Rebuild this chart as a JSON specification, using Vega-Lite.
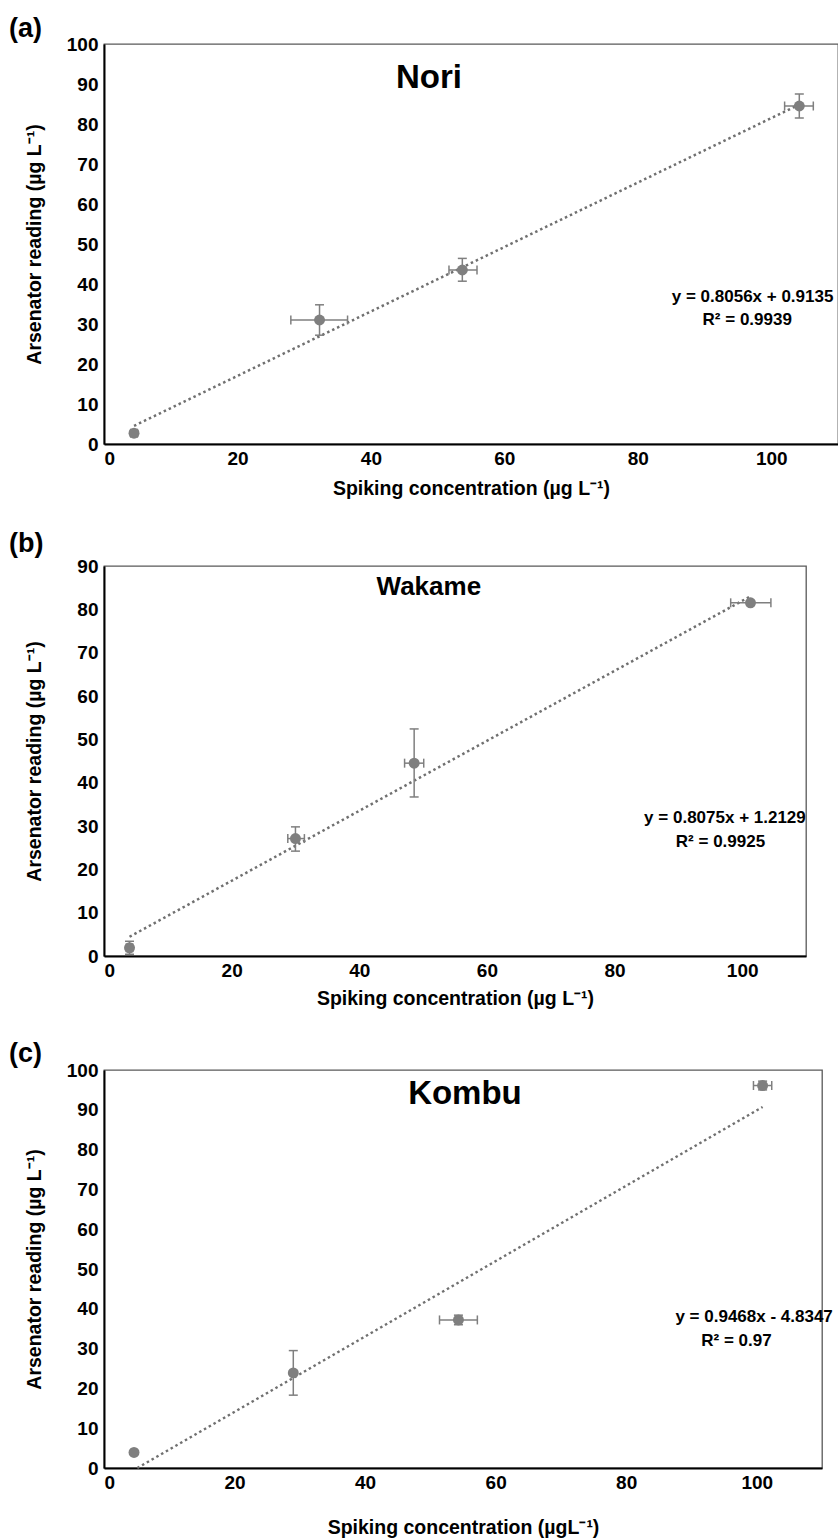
{
  "$schema": "https://vega.github.io/schema/vega-lite/v6.json",
  "background": "white",
  "padding": {"left": 8, "top": 14, "right": 0, "bottom": 0},
  "spacing": 30,
  "config": {
    "font": "Liberation Sans",
    "view": {"stroke": "#595959", "strokeWidth": 1.3},
    "axis": {"grid": false, "ticks": false, "labelOverlap": false, "domainColor": "#000000", "domainWidth": 2, "labelFont": "Liberation Sans", "labelFontSize": 19, "labelFontWeight": "bold", "labelColor": "#000000", "titleFont": "Liberation Sans", "titleFontSize": 19.5, "titleFontWeight": "bold", "titleColor": "#000000", "labelPadding": 5},
    "axisY": {"minExtent": 38, "maxExtent": 38, "titlePadding": 22, "labelPadding": 6},
    "title": {"font": "Liberation Sans", "fontSize": 27, "fontWeight": "bold", "anchor": "start", "color": "#000000"}
  },
  "datasets": {
    "nori": [
      {"x": 4.5, "y": 2.7, "xlo": 4.0, "xhi": 5.0, "ylo": 2.0, "yhi": 3.4},
      {"x": 32.3, "y": 31.0, "xlo": 28.0, "xhi": 36.5, "ylo": 27.2, "yhi": 34.8},
      {"x": 53.7, "y": 43.5, "xlo": 51.7, "xhi": 55.9, "ylo": 40.7, "yhi": 46.4},
      {"x": 104.2, "y": 84.5, "xlo": 102.0, "xhi": 106.3, "ylo": 81.5, "yhi": 87.5}
    ],
    "nori_trend": [{"x": 4.5, "y": 4.54}, {"x": 104.2, "y": 84.86}],
    "wakame": [
      {"x": 4.0, "y": 1.9, "xlo": 3.5, "xhi": 4.5, "ylo": 0.4, "yhi": 3.4},
      {"x": 30.0, "y": 27.1, "xlo": 28.8, "xhi": 31.4, "ylo": 24.2, "yhi": 29.8},
      {"x": 48.6, "y": 44.5, "xlo": 47.1, "xhi": 50.1, "ylo": 36.7, "yhi": 52.4},
      {"x": 101.3, "y": 81.5, "xlo": 98.2, "xhi": 104.5, "ylo": 81.0, "yhi": 82.0}
    ],
    "wakame_trend": [{"x": 4.0, "y": 4.44}, {"x": 101.3, "y": 83.0}],
    "kombu": [
      {"x": 4.6, "y": 3.9, "xlo": 4.3, "xhi": 4.9, "ylo": 3.5, "yhi": 4.3},
      {"x": 29.0, "y": 23.9, "xlo": 28.8, "xhi": 29.2, "ylo": 18.3, "yhi": 29.5},
      {"x": 54.3, "y": 37.2, "xlo": 51.4, "xhi": 57.2, "ylo": 36.0, "yhi": 38.4},
      {"x": 100.9, "y": 96.1, "xlo": 99.5, "xhi": 102.3, "ylo": 95.0, "yhi": 97.2}
    ],
    "kombu_trend": [{"x": 5.1, "y": 0.0}, {"x": 100.9, "y": 90.7}],
    "one": [{}]
  },
  "vconcat": [
    {
      "title": {"text": "(a)", "dx": -15, "offset": -8},
      "width": 734, "height": 400,
      "layer": [
        {"data": {"name": "nori_trend"}, "mark": {"type": "line", "color": "#707070", "strokeWidth": 2.5, "strokeDash": [2.5, 3]},
         "encoding": {
           "x": {"field": "x", "type": "quantitative", "scale": {"domain": [0, 110], "nice": false}, "axis": {"values": [0, 20, 40, 60, 80, 100], "title": "Spiking concentration (µg L⁻¹)", "titlePadding": 11}},
           "y": {"field": "y", "type": "quantitative", "scale": {"domain": [0, 100], "nice": false}, "axis": {"values": [0, 10, 20, 30, 40, 50, 60, 70, 80, 90, 100], "tickCount": 11, "labelOverlap": false, "title": "Arsenator reading (µg L⁻¹)"}}
         }},
        {"data": {"name": "nori"}, "mark": {"type": "rule", "color": "#7f7f7f", "strokeWidth": 1.5},
         "encoding": {"x": {"field": "xlo", "type": "quantitative"}, "x2": {"field": "xhi"}, "y": {"field": "y", "type": "quantitative"}}},
        {"data": {"name": "nori"}, "mark": {"type": "rule", "color": "#7f7f7f", "strokeWidth": 1.5},
         "encoding": {"x": {"field": "x", "type": "quantitative"}, "y": {"field": "ylo", "type": "quantitative"}, "y2": {"field": "yhi"}}},
        {"data": {"name": "nori"}, "mark": {"type": "tick", "orient": "vertical", "color": "#7f7f7f", "size": 9, "thickness": 1.5, "opacity": 1},
         "encoding": {"x": {"field": "xlo", "type": "quantitative"}, "y": {"field": "y", "type": "quantitative"}}},
        {"data": {"name": "nori"}, "mark": {"type": "tick", "orient": "vertical", "color": "#7f7f7f", "size": 9, "thickness": 1.5, "opacity": 1},
         "encoding": {"x": {"field": "xhi", "type": "quantitative"}, "y": {"field": "y", "type": "quantitative"}}},
        {"data": {"name": "nori"}, "mark": {"type": "tick", "orient": "horizontal", "color": "#7f7f7f", "size": 9, "thickness": 1.5, "opacity": 1},
         "encoding": {"x": {"field": "x", "type": "quantitative"}, "y": {"field": "ylo", "type": "quantitative"}}},
        {"data": {"name": "nori"}, "mark": {"type": "tick", "orient": "horizontal", "color": "#7f7f7f", "size": 9, "thickness": 1.5, "opacity": 1},
         "encoding": {"x": {"field": "x", "type": "quantitative"}, "y": {"field": "yhi", "type": "quantitative"}}},
        {"data": {"name": "nori"}, "mark": {"type": "circle", "color": "#7f7f7f", "size": 120, "opacity": 1},
         "encoding": {"x": {"field": "x", "type": "quantitative"}, "y": {"field": "y", "type": "quantitative"}}},
        {"data": {"name": "one"}, "mark": {"type": "text", "text": "Nori", "fontSize": 33, "fontWeight": "bold", "color": "#000000", "baseline": "middle", "align": "center"},
         "encoding": {"x": {"datum": 48.7}, "y": {"datum": 91.5}}},
        {"data": {"name": "one"}, "mark": {"type": "text", "text": "y = 0.8056x + 0.9135", "fontSize": 17, "fontWeight": "bold", "color": "#000000", "baseline": "middle", "align": "center"},
         "encoding": {"x": {"datum": 97.2}, "y": {"datum": 36.8}}},
        {"data": {"name": "one"}, "mark": {"type": "text", "text": "R² = 0.9939", "fontSize": 17, "fontWeight": "bold", "color": "#000000", "baseline": "middle", "align": "center"},
         "encoding": {"x": {"datum": 96.4}, "y": {"datum": 31.0}}}
      ]
    },
    {
      "title": {"text": "(b)", "dx": -15, "offset": -1},
      "width": 702, "height": 390,
      "layer": [
        {"data": {"name": "wakame_trend"}, "mark": {"type": "line", "color": "#707070", "strokeWidth": 2.5, "strokeDash": [2.5, 3]},
         "encoding": {
           "x": {"field": "x", "type": "quantitative", "scale": {"domain": [0, 110], "nice": false}, "axis": {"values": [0, 20, 40, 60, 80, 100], "title": "Spiking concentration (µg L⁻¹)", "titlePadding": 9}},
           "y": {"field": "y", "type": "quantitative", "scale": {"domain": [0, 90], "nice": false}, "axis": {"values": [0, 10, 20, 30, 40, 50, 60, 70, 80, 90], "tickCount": 10, "labelOverlap": false, "title": "Arsenator reading (µg L⁻¹)"}}
         }},
        {"data": {"name": "wakame"}, "mark": {"type": "rule", "color": "#7f7f7f", "strokeWidth": 1.5},
         "encoding": {"x": {"field": "xlo", "type": "quantitative"}, "x2": {"field": "xhi"}, "y": {"field": "y", "type": "quantitative"}}},
        {"data": {"name": "wakame"}, "mark": {"type": "rule", "color": "#7f7f7f", "strokeWidth": 1.5},
         "encoding": {"x": {"field": "x", "type": "quantitative"}, "y": {"field": "ylo", "type": "quantitative"}, "y2": {"field": "yhi"}}},
        {"data": {"name": "wakame"}, "mark": {"type": "tick", "orient": "vertical", "color": "#7f7f7f", "size": 9, "thickness": 1.5, "opacity": 1},
         "encoding": {"x": {"field": "xlo", "type": "quantitative"}, "y": {"field": "y", "type": "quantitative"}}},
        {"data": {"name": "wakame"}, "mark": {"type": "tick", "orient": "vertical", "color": "#7f7f7f", "size": 9, "thickness": 1.5, "opacity": 1},
         "encoding": {"x": {"field": "xhi", "type": "quantitative"}, "y": {"field": "y", "type": "quantitative"}}},
        {"data": {"name": "wakame"}, "mark": {"type": "tick", "orient": "horizontal", "color": "#7f7f7f", "size": 9, "thickness": 1.5, "opacity": 1},
         "encoding": {"x": {"field": "x", "type": "quantitative"}, "y": {"field": "ylo", "type": "quantitative"}}},
        {"data": {"name": "wakame"}, "mark": {"type": "tick", "orient": "horizontal", "color": "#7f7f7f", "size": 9, "thickness": 1.5, "opacity": 1},
         "encoding": {"x": {"field": "x", "type": "quantitative"}, "y": {"field": "yhi", "type": "quantitative"}}},
        {"data": {"name": "wakame"}, "mark": {"type": "circle", "color": "#7f7f7f", "size": 120, "opacity": 1},
         "encoding": {"x": {"field": "x", "type": "quantitative"}, "y": {"field": "y", "type": "quantitative"}}},
        {"data": {"name": "one"}, "mark": {"type": "text", "text": "Wakame", "fontSize": 26, "fontWeight": "bold", "color": "#000000", "baseline": "middle", "align": "center"},
         "encoding": {"x": {"datum": 50.9}, "y": {"datum": 85.2}}},
        {"data": {"name": "one"}, "mark": {"type": "text", "text": "y = 0.8075x + 1.2129", "fontSize": 17, "fontWeight": "bold", "color": "#000000", "baseline": "middle", "align": "center"},
         "encoding": {"x": {"datum": 97.3}, "y": {"datum": 31.9}}},
        {"data": {"name": "one"}, "mark": {"type": "text", "text": "R² = 0.9925", "fontSize": 17, "fontWeight": "bold", "color": "#000000", "baseline": "middle", "align": "center"},
         "encoding": {"x": {"datum": 96.6}, "y": {"datum": 26.4}}}
      ]
    },
    {
      "title": {"text": "(c)", "dx": -15, "offset": -7},
      "width": 718, "height": 398,
      "layer": [
        {"data": {"name": "kombu_trend"}, "mark": {"type": "line", "color": "#707070", "strokeWidth": 2.5, "strokeDash": [2.5, 3]},
         "encoding": {
           "x": {"field": "x", "type": "quantitative", "scale": {"domain": [0, 110], "nice": false}, "axis": {"values": [0, 20, 40, 60, 80, 100], "title": "Spiking concentration (µgL⁻¹)", "titlePadding": 26}},
           "y": {"field": "y", "type": "quantitative", "scale": {"domain": [0, 100], "nice": false}, "axis": {"values": [0, 10, 20, 30, 40, 50, 60, 70, 80, 90, 100], "tickCount": 11, "labelOverlap": false, "title": "Arsenator reading (µg L⁻¹)"}}
         }},
        {"data": {"name": "kombu"}, "mark": {"type": "rule", "color": "#7f7f7f", "strokeWidth": 1.5},
         "encoding": {"x": {"field": "xlo", "type": "quantitative"}, "x2": {"field": "xhi"}, "y": {"field": "y", "type": "quantitative"}}},
        {"data": {"name": "kombu"}, "mark": {"type": "rule", "color": "#7f7f7f", "strokeWidth": 1.5},
         "encoding": {"x": {"field": "x", "type": "quantitative"}, "y": {"field": "ylo", "type": "quantitative"}, "y2": {"field": "yhi"}}},
        {"data": {"name": "kombu"}, "mark": {"type": "tick", "orient": "vertical", "color": "#7f7f7f", "size": 9, "thickness": 1.5, "opacity": 1},
         "encoding": {"x": {"field": "xlo", "type": "quantitative"}, "y": {"field": "y", "type": "quantitative"}}},
        {"data": {"name": "kombu"}, "mark": {"type": "tick", "orient": "vertical", "color": "#7f7f7f", "size": 9, "thickness": 1.5, "opacity": 1},
         "encoding": {"x": {"field": "xhi", "type": "quantitative"}, "y": {"field": "y", "type": "quantitative"}}},
        {"data": {"name": "kombu"}, "mark": {"type": "tick", "orient": "horizontal", "color": "#7f7f7f", "size": 9, "thickness": 1.5, "opacity": 1},
         "encoding": {"x": {"field": "x", "type": "quantitative"}, "y": {"field": "ylo", "type": "quantitative"}}},
        {"data": {"name": "kombu"}, "mark": {"type": "tick", "orient": "horizontal", "color": "#7f7f7f", "size": 9, "thickness": 1.5, "opacity": 1},
         "encoding": {"x": {"field": "x", "type": "quantitative"}, "y": {"field": "yhi", "type": "quantitative"}}},
        {"data": {"name": "kombu"}, "mark": {"type": "circle", "color": "#7f7f7f", "size": 120, "opacity": 1},
         "encoding": {"x": {"field": "x", "type": "quantitative"}, "y": {"field": "y", "type": "quantitative"}}},
        {"data": {"name": "one"}, "mark": {"type": "text", "text": "Kombu", "fontSize": 33, "fontWeight": "bold", "color": "#000000", "baseline": "middle", "align": "center"},
         "encoding": {"x": {"datum": 55.3}, "y": {"datum": 94.0}}},
        {"data": {"name": "one"}, "mark": {"type": "text", "text": "y = 0.9468x - 4.8347", "fontSize": 17, "fontWeight": "bold", "color": "#000000", "baseline": "middle", "align": "center"},
         "encoding": {"x": {"datum": 99.6}, "y": {"datum": 37.9}}},
        {"data": {"name": "one"}, "mark": {"type": "text", "text": "R² = 0.97", "fontSize": 17, "fontWeight": "bold", "color": "#000000", "baseline": "middle", "align": "center"},
         "encoding": {"x": {"datum": 96.9}, "y": {"datum": 31.9}}}
      ]
    }
  ]
}
